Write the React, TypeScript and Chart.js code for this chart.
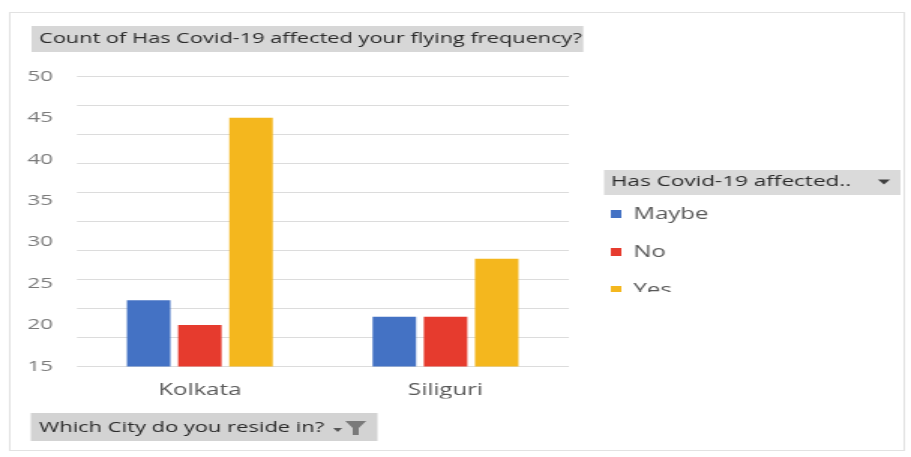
import React, { useEffect, useRef } from 'react';
import { Chart, registerables } from 'chart.js';

Chart.register(...registerables);

// ---- data ----
const CATEGORIES = ['Kolkata', 'Siliguri'];
const SERIES_NAMES = ['Maybe', 'No', 'Yes'];
const MAYBE = [23, 21];
const NO = [20, 21];
const YES = [45, 28];
const Y_TICKS = [15, 20, 25, 30, 35, 40, 45, 50];
const GRID_TICKS = [15, 18.5, 22, 25.5, 29, 32.5, 36, 39.5, 43, 46.5, 50];
const COLORS = ['#4472C4', '#E63B2E', '#F4B71E'];
const TITLE = 'Count of Has Covid-19 affected your flying frequency?';
const LEGEND_TITLE = 'Has Covid-19 affected..';
const AXIS_FIELD = 'Which City do you reside in?';

// ---- layout (canvas drawn narrower, then stretched horizontally) ----
const W = 607;
const H = 457;
const SX = 911 / W;
const FONT = '"Open Sans", "Noto Sans", Arial, sans-serif';
const LEGEND_W = 198;

const decor = {
  id: 'decor',
  beforeLayout(chart: any) {
    const lg = chart.legend;
    if (lg && !lg.__patched) {
      const orig = lg.fit;
      lg.fit = function () {
        orig.call(this);
        this.width = LEGEND_W;
      };
      lg.__patched = true;
    }
  },
  beforeDraw(chart: any) {
    const ctx = chart.ctx;
    ctx.save();
    ctx.fillStyle = '#ffffff';
    ctx.fillRect(0, 0, chart.width, chart.height);
    // outer frame
    ctx.strokeStyle = '#e2e2e2';
    ctx.lineWidth = 1;
    ctx.strokeRect(6.5, 12.5, 596, 438);
    // title background
    const tb = chart.titleBlock;
    const tf = chart.options.plugins.title.font;
    ctx.font = `${tf.weight || 'normal'} ${tf.size}px ${FONT}`;
    const tw = ctx.measureText(TITLE).width;
    ctx.fillStyle = '#d7d7d7';
    ctx.fillRect(tb.left - 5, 26, tw + 6, 26);
    // legend header background
    const lg = chart.legend;
    ctx.fillStyle = '#dadada';
    ctx.fillRect(lg.left - 4.5, 170, 600 - (lg.left - 4.5), 25);
    // bottom field button background
    ctx.fillStyle = '#d3d3d3';
    ctx.fillRect(20.5, 413, 231, 28);
    ctx.restore();
  },
  afterDraw(chart: any) {
    const ctx = chart.ctx;
    const lg = chart.legend;
    ctx.save();
    // clip the last legend entry like the scrolled pane
    ctx.fillStyle = '#ffffff';
    ctx.fillRect(lg.left - 6, 292, 600 - lg.left, 60);
    // dropdown arrow in legend header
    ctx.fillStyle = '#404040';
    ctx.beginPath();
    ctx.moveTo(585, 179.5);
    ctx.lineTo(593, 179.5);
    ctx.lineTo(589, 184.5);
    ctx.closePath();
    ctx.fill();
    // small arrow + funnel on field button
    ctx.fillStyle = '#555555';
    ctx.beginPath();
    ctx.moveTo(222, 428);
    ctx.lineTo(228, 428);
    ctx.lineTo(225, 432);
    ctx.closePath();
    ctx.fill();
    ctx.fillStyle = '#7a7a7a';
    ctx.beginPath();
    ctx.moveTo(230, 421);
    ctx.lineTo(244, 421);
    ctx.lineTo(239, 428);
    ctx.lineTo(239, 435);
    ctx.lineTo(235, 435);
    ctx.lineTo(235, 428);
    ctx.closePath();
    ctx.fill();
    ctx.restore();
  },
};

export default function App() {
  const ref = useRef<HTMLCanvasElement | null>(null);

  useEffect(() => {
    if (!ref.current) return;
    Chart.defaults.font.family = FONT;
    const values = [MAYBE, NO, YES];
    const chart = new Chart(ref.current, {
      type: 'bar',
      data: {
        labels: CATEGORIES,
        datasets: SERIES_NAMES.map((name, i) => ({
          label: name,
          data: values[i],
          backgroundColor: COLORS[i],
          borderWidth: 0,
          barPercentage: 0.85,
          categoryPercentage: 0.625,
          yAxisID: 'y',
        })),
      },
      options: {
        animation: false,
        responsive: true,
        maintainAspectRatio: false,
        layout: { padding: { left: 26, right: 2, top: 0, bottom: 0 } },
        plugins: {
          title: {
            display: true,
            text: TITLE,
            align: 'start',
            color: '#2b2b2b',
            font: { family: FONT, size: 14.5, weight: 'normal' },
            padding: { top: 30, bottom: 29 },
          },
          subtitle: {
            display: true,
            position: 'bottom',
            text: AXIS_FIELD,
            align: 'start',
            color: '#2b2b2b',
            font: { family: FONT, size: 14.6, weight: 'normal' },
            padding: { top: 21, bottom: 20 },
          },
          legend: {
            position: 'right',
            align: 'start',
            title: {
              display: true,
              text: LEGEND_TITLE,
              position: 'start',
              color: '#2b2b2b',
              font: { family: FONT, size: 15, weight: 'normal' },
              padding: { top: 174.5, bottom: 13.5 },
            },
            labels: {
              boxWidth: 7,
              boxHeight: 8,
              padding: 0,
              color: '#595959',
              font: { family: FONT, size: 16, lineHeight: 2.375 },
              generateLabels: (c: any) =>
                Chart.defaults.plugins.legend.labels
                  .generateLabels(c)
                  .map((it: any) => ({ ...it, text: [it.text], lineWidth: 0 })),
            },
          },
          tooltip: { enabled: false },
        },
        scales: {
          x: {
            grid: { display: false, drawTicks: false },
            border: { display: false },
            ticks: { color: '#595959', font: { family: FONT, size: 16 }, padding: 14 },
            afterFit: (s: any) => {
              s.height = 32;
            },
          },
          y: {
            position: 'left',
            min: 15,
            max: 50,
            grid: { display: false, drawTicks: false },
            border: { display: false },
            afterBuildTicks: (s: any) => {
              s.ticks = Y_TICKS.map((v) => ({ value: v }));
            },
            ticks: { color: '#7b7b7b', font: { family: FONT, size: 15 }, padding: 16 },
            afterFit: (s: any) => {
              s.width = 25.3;
              s._computeLabelArea = () => undefined;
            },
          },
          y2: {
            position: 'right',
            min: 15,
            max: 50,
            grid: { color: '#dcdcdc', drawTicks: false },
            border: { display: false },
            ticks: { display: false },
            afterBuildTicks: (s: any) => {
              s.ticks = GRID_TICKS.map((v) => ({ value: v }));
            },
            afterFit: (s: any) => {
              s.width = 28.3;
            },
          },
        },
      } as any,
      plugins: [decor],
    });
    return () => chart.destroy();
  }, []);

  return (
    <div
      style={{
        position: 'absolute',
        left: 0,
        top: 0,
        width: W,
        height: H,
        transform: `scaleX(${SX})`,
        transformOrigin: '0 0',
      }}
    >
      <canvas ref={ref} />
    </div>
  );
}
